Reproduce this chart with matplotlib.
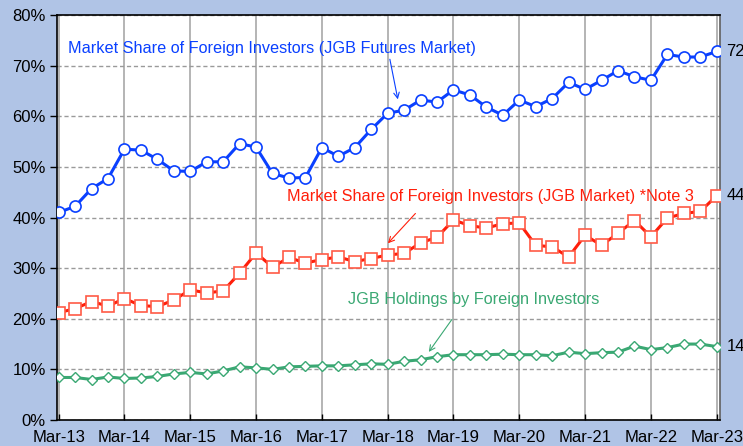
import matplotlib
matplotlib.use("Agg")
import matplotlib.pyplot as plt
import numpy as np

plt.rcParams['font.family'] = ['Liberation Sans', 'DejaVu Sans']

years = ["Mar-13", "Mar-14", "Mar-15", "Mar-16", "Mar-17", "Mar-18",
         "Mar-19", "Mar-20", "Mar-21", "Mar-22", "Mar-23"]

futures_share = [41.0, 42.2, 45.7, 47.7, 53.5, 53.3, 51.5, 49.2, 49.1, 51.0,
                 51.0, 54.6, 53.9, 48.7, 47.8, 47.9, 53.8, 52.1, 53.8, 57.4,
                 60.6, 61.2, 63.2, 62.8, 65.2, 64.2, 61.8, 60.2, 63.2, 61.9,
                 63.5, 66.7, 65.3, 67.1, 69.0, 67.8, 67.1, 72.2, 71.7, 71.7,
                 72.8]

jgb_share = [21.2, 22.0, 23.4, 22.5, 24.0, 22.6, 22.4, 23.7, 25.7, 25.1,
             25.5, 29.0, 33.0, 30.2, 32.1, 31.0, 31.7, 32.2, 31.3, 31.9,
             32.6, 32.9, 35.0, 36.1, 39.5, 38.4, 37.9, 38.8, 38.9, 34.5,
             34.2, 32.2, 36.5, 34.5, 36.9, 39.4, 36.2, 39.9, 40.8, 41.2,
             44.3]

holdings = [8.4, 8.4, 8.0, 8.5, 8.2, 8.3, 8.6, 9.1, 9.4, 9.1,
            9.7, 10.5, 10.3, 10.0, 10.5, 10.6, 10.7, 10.7, 10.9, 11.1,
            11.0, 11.6, 11.9, 12.5, 12.9, 12.9, 12.9, 13.0, 12.9, 12.9,
            12.7, 13.4, 13.1, 13.3, 13.4, 14.6, 13.9, 14.3, 15.0, 15.0,
            14.5]

end_labels = ["72%", "44%", "14%"]

label_futures = "Market Share of Foreign Investors (JGB Futures Market)"
label_jgb = "Market Share of Foreign Investors (JGB Market) *Note 3"
label_hold = "JGB Holdings by Foreign Investors"

BLUE = "#0A40FF"
RED = "#FF1E0A"
RED_EDGE = "#FF5A46"
GREEN = "#3AA873"
BG = "#B0C4E6"

fig = plt.figure(figsize=(7.43, 4.46), dpi=100)
fig.patch.set_facecolor(BG)
ax = fig.add_axes([57/743, 1-420/446, (720-57)/743, (420-15)/446])
ax.set_facecolor("white")

x = np.arange(len(futures_share))

ax.plot(x, holdings, color=GREEN, lw=2.2, marker='D', ms=5.5,
        mfc='white', mec=GREEN, mew=1.0, zorder=3)
ax.plot(x, jgb_share, color=RED, lw=2.2, marker='s', ms=8,
        mfc='white', mec=RED_EDGE, mew=1.2, zorder=4)
ax.plot(x, futures_share, color=BLUE, lw=2.2, marker='o', ms=8,
        mfc='white', mec=BLUE, mew=1.2, zorder=5)

ax.set_ylim(0, 80)
ax.set_xlim(-0.1, 40.2)
ax.set_yticks(np.arange(0, 81, 10))
ax.set_yticklabels([f"{v}%" for v in range(0, 81, 10)])
ax.set_xticks(np.arange(0, 41, 4))
ax.set_xticklabels(years)
ax.tick_params(axis='both', labelsize=12, colors='black')
ax.tick_params(axis='y', length=5, width=1, direction='out', pad=3)
ax.tick_params(axis='x', length=4, width=1, direction='in', pad=7)

ax.yaxis.grid(True, linestyle=(0, (3, 2)), color='#9A9A9A', lw=1.0)
ax.xaxis.grid(True, linestyle='-', color='#A8A8A8', lw=1.2)
ax.set_axisbelow(True)
for s in ['left', 'bottom', 'top']:
    ax.spines[s].set_color('black')
    ax.spines[s].set_linewidth(1.2)
ax.spines['right'].set_color('#606060')
ax.spines['right'].set_linewidth(1.2)

# End labels
for series, lab in zip([futures_share, jgb_share, holdings], end_labels):
    ax.annotate(lab, xy=(x[-1], series[-1]), xytext=(7, 0),
                textcoords='offset points', va='center', ha='left',
                fontsize=12, color='black', annotation_clip=False)

# Series labels with arrows
ax.text(0.55, 73.3, label_futures, color=BLUE, fontsize=11.7, va='center', ha='left')
ax.annotate("", xy=(20.65, 62.8), xytext=(20.1, 71.8),
            arrowprops=dict(arrowstyle='->', color=BLUE, lw=0.8))

ax.text(13.9, 44.1, label_jgb, color=RED, fontsize=11.7, va='center', ha='left')
ax.annotate("", xy=(19.9, 34.5), xytext=(21.8, 41.2),
            arrowprops=dict(arrowstyle='->', color=RED, lw=0.8))

ax.text(17.6, 23.8, label_hold, color=GREEN, fontsize=11.7, va='center', ha='left')
ax.annotate("", xy=(22.4, 13.0), xytext=(24.0, 20.3),
            arrowprops=dict(arrowstyle='->', color=GREEN, lw=0.8))

fig.savefig("out.png", dpi=100, facecolor=BG)
